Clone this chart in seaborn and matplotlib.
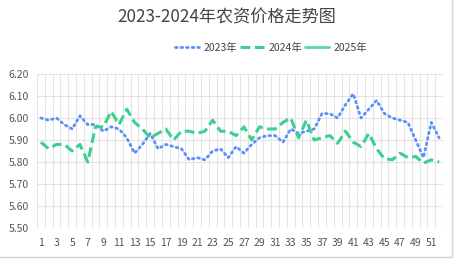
import numpy as np
import pandas as pd
import matplotlib
matplotlib.use("Agg")
import matplotlib.pyplot as plt
from matplotlib.lines import Line2D
import seaborn as sns

weeks = list(range(1, 53))
values_2023 = [6.00, 5.99, 6.00, 5.97, 5.95, 6.01, 5.97, 5.97, 5.94, 5.96,
               5.95, 5.91, 5.84, 5.88, 5.93, 5.86, 5.88, 5.87, 5.86, 5.81,
               5.82, 5.81, 5.85, 5.86, 5.82, 5.87, 5.84, 5.88, 5.91, 5.92,
               5.92, 5.89, 5.95, 5.93, 5.94, 5.95, 6.02, 6.02, 6.00, 6.06,
               6.11, 6.00, 6.04, 6.08, 6.02, 6.00, 5.99, 5.98, 5.90, 5.82,
               5.98, 5.91]
values_2024 = [5.89, 5.86, 5.88, 5.88, 5.85, 5.88, 5.80, 5.96, 5.96, 6.03,
               5.97, 6.04, 5.98, 5.95, 5.91, 5.93, 5.95, 5.90, 5.94, 5.94,
               5.93, 5.94, 5.99, 5.94, 5.94, 5.92, 5.96, 5.90, 5.96, 5.95,
               5.95, 5.98, 6.00, 5.91, 5.99, 5.90, 5.91, 5.92, 5.885, 5.94,
               5.89, 5.87, 5.93, 5.86, 5.815, 5.81, 5.84, 5.82, 5.825, 5.795,
               5.81, 5.80]
values_2025 = []
series_names = ["2023年", "2024年", "2025年"]
title = "2023-2024年农资价格走势图"
y_ticks = [5.50, 5.60, 5.70, 5.80, 5.90, 6.00, 6.10, 6.20]
x_tick_labels = [str(w) for w in weeks if w % 2 == 1]

sns.set_theme(style="white")
plt.rcParams['font.family'] = ['Noto Sans CJK SC', 'DejaVu Sans']

fig = plt.figure(figsize=(4.56, 2.63), dpi=100)
ax = fig.add_axes([37/456, 1-228/263, (443-37)/456, (228-74)/263])

c23 = "#5b8ff9"
c24 = "#3ccf91"
c25 = "#5ad8a6"

df23 = pd.DataFrame({"week": weeks, "value": values_2023})
df24 = pd.DataFrame({"week": weeks, "value": values_2024})

sns.lineplot(data=df23, x="week", y="value", ax=ax, color=c23, lw=2.0,
             linestyle=(0, (0.6, 1.4)), dash_capstyle="round", label=series_names[0])
sns.lineplot(data=df24, x="week", y="value", ax=ax, color=c24, lw=2.2,
             linestyle=(0, (3.2, 1.5)), label=series_names[1])
ax.plot(weeks[:len(values_2025)], values_2025, color=c25, lw=2.0, label=series_names[2])

ax.set_xlim(0.5, 52.5)
ax.set_ylim(5.50, 6.20)
ax.set_yticks(y_ticks)
ax.set_yticklabels([f"{v:.2f}" for v in y_ticks])
ax.set_xticks([w for w in weeks if w % 2 == 1])
ax.set_xticklabels(x_tick_labels)
ax.set_xticks(np.arange(0.5, 53.0, 1.0), minor=True)
ax.grid(False)
ax.grid(True, axis="y", which="major", color="#e3e3e3", lw=0.8)
ax.grid(True, axis="x", which="minor", color="#e3e3e3", lw=0.8)
ax.tick_params(axis="both", which="both", length=0, labelsize=7.5, colors="#555555")
ax.tick_params(axis="y", pad=6)
ax.tick_params(axis="x", pad=7)
ax.set_xlabel("")
ax.set_ylabel("")
for s in ax.spines.values():
    s.set_visible(False)

fig.text(227/456, 1-17/263, title, ha="center", va="center", fontsize=12.3, color="#444444")

leg = ax.legend(loc="center", bbox_to_anchor=(271/456, 1-48/263), bbox_transform=fig.transFigure,
                ncol=3, frameon=False, fontsize=7.5, handlelength=2.3, handletextpad=0.4,
                columnspacing=0.3, labelcolor="#444444")

fig.add_artist(Line2D([0, 452/456], [1-257/263, 1-257/263], transform=fig.transFigure, color="#d5d5d5", lw=1))
fig.add_artist(Line2D([452/456, 452/456], [1-257/263, 1], transform=fig.transFigure, color="#d5d5d5", lw=1))

fig.savefig("out.png", dpi=100, facecolor="white")
